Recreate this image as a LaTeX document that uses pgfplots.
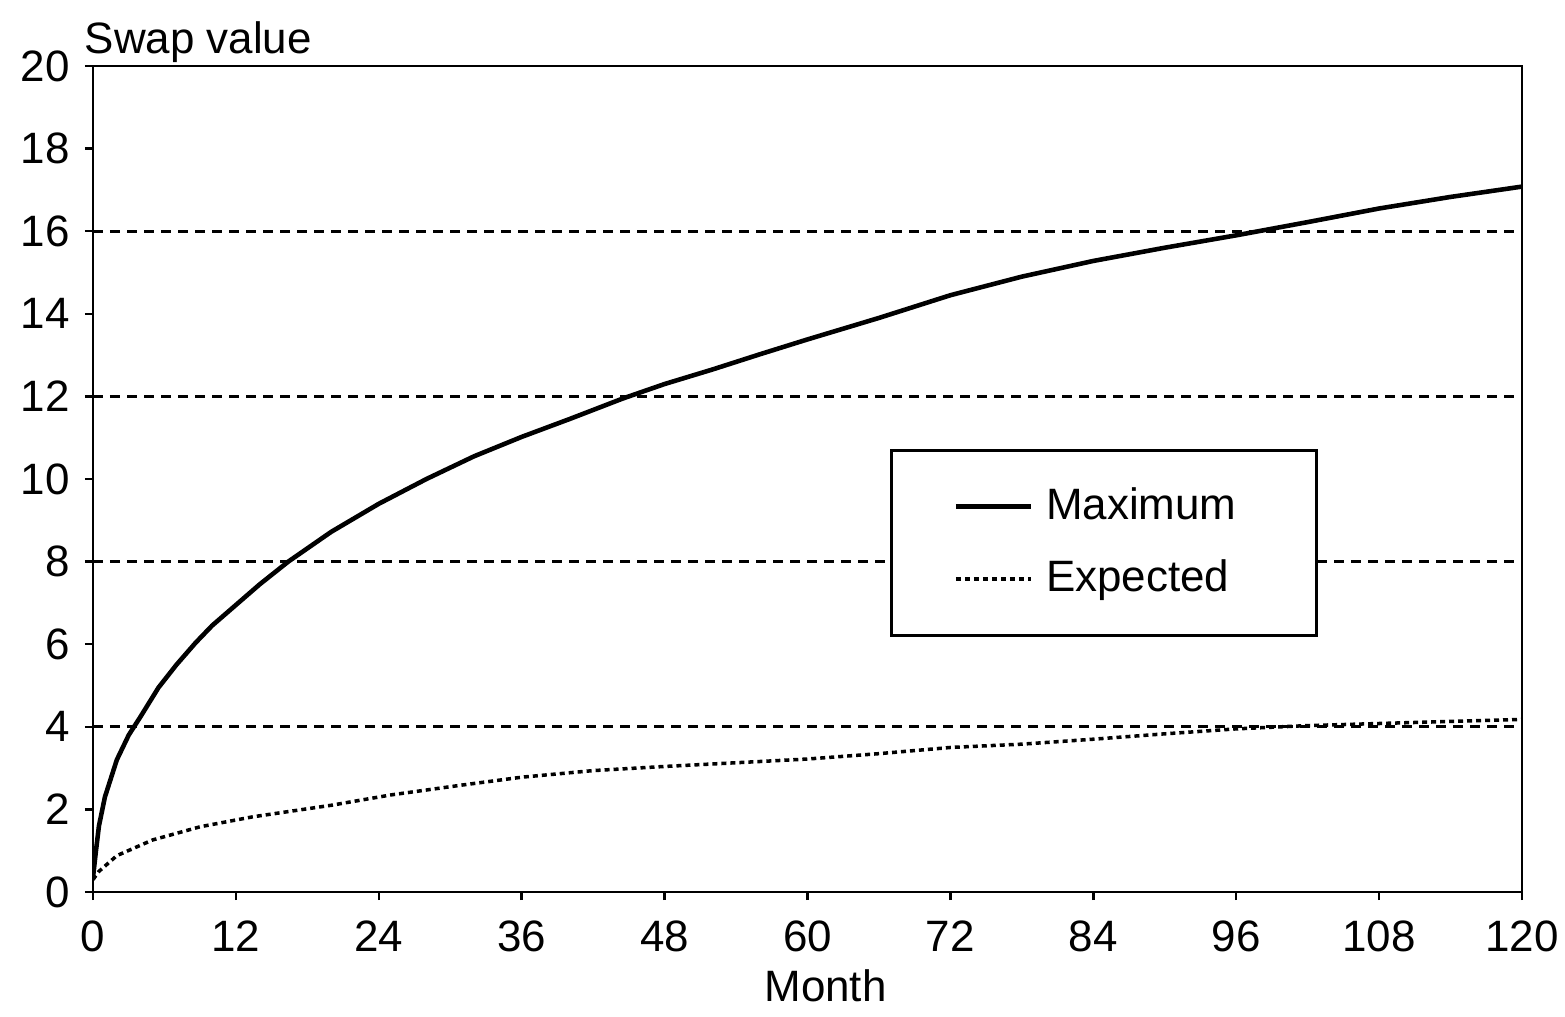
\documentclass[border=0pt]{standalone}
\usepackage{pgfplots}
\pgfplotsset{compat=1.18}
\usetikzlibrary{calc}
\usepackage{fontspec}
\setmainfont{Liberation Sans}
\begin{document}
\fontsize{12.5}{15}\selectfont
\begin{tikzpicture}
\begin{axis}[
  name=ax,
  scale only axis,
  width=142.9mm, height=82.6mm,
  xmin=0, xmax=120, ymin=0, ymax=20,
  xtick={0,12,...,120},
  ytick={0,2,...,20},
  extra y ticks={4,8,12,16},
  extra y tick labels={},
  extra y tick style={grid=major, major tick length=0pt},
  grid style={black, line width=0.8pt, dash pattern=on 1mm off 0.7mm},
  tick align=outside,
  tick pos=left,
  major tick length=0.8mm,
  tick style={black, line width=0.7pt},
  axis line style={line width=0.8pt},
  /pgf/number format/assume math mode=true,
  ticklabel style={font=\fontsize{12.5}{15}\selectfont},
  xticklabel style={inner xsep=0pt, yshift=-0.5mm},
  xlabel={Month},
  xlabel style={font=\fontsize{12.5}{15}\selectfont, yshift=1.2mm, xshift=1.8mm},
  ylabel={Swap value},
  ylabel style={font=\fontsize{12.5}{15}\selectfont, rotate=-90, at={(rel axis cs:0,1)}, anchor=south west, xshift=-0.9mm, yshift=0.3mm, inner sep=0pt},
  legend style={at={(rel axis cs:0.558,0.536)}, anchor=north west, draw=black, line width=0.7pt,
    font=\fontsize{12.5}{15}\selectfont, inner xsep=6.2mm, inner ysep=3.0mm, row sep=2.0mm, column sep=0.6mm, cells={anchor=west}},
  legend image code/.code={\draw[#1] (0mm,0mm) -- (7.5mm,0mm);},
]
\addplot[black, line width=1.3pt] coordinates {
(0,0.35) (0.25,1.0) (0.5,1.6) (1,2.3) (2,3.2) (3,3.8) (4,4.25) (5.5,4.95) (7,5.5)
(8.6,6.03) (10,6.45) (12,6.95) (14,7.45) (16.4,8.0) (20,8.72) (24,9.4) (28,10.0)
(32,10.55) (36,11.02) (40,11.45) (44.5,11.95) (48,12.3) (52,12.65) (56,13.02)
(60,13.38) (66,13.9) (72,14.45) (78,14.9) (84,15.28) (90,15.6) (96,15.9)
(102,16.22) (108,16.55) (114,16.83) (120,17.08)
};
\addlegendentry{Maximum\hspace{1.1mm}\mbox{}}
\addplot[black, line width=1pt, dash pattern=on 0.5mm off 0.4mm] coordinates {
(0,0.3) (0.5,0.5) (2,0.88) (5,1.26) (9,1.58) (13.4,1.82) (20,2.1) (25,2.35)
(31,2.59) (36,2.78) (42,2.94) (48,3.04) (54,3.13) (60,3.22) (66,3.35) (72,3.5)
(78,3.58) (84,3.7) (90,3.83) (96,3.95) (102,4.03) (108,4.08) (114,4.13) (120,4.18)
};
\addlegendentry{Expected}
\end{axis}
\path ($(ax.south west)+(-9.3mm,-12.4mm)$) rectangle ($(ax.north east)+(4.3mm,6.6mm)$);
\end{tikzpicture}
\end{document}
